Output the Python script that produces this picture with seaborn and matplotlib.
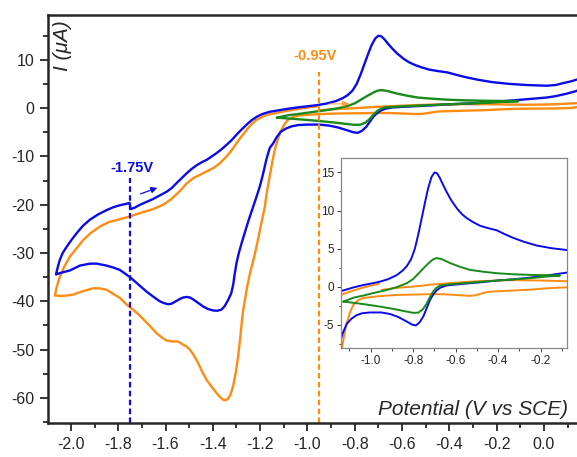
import numpy as np
import seaborn as sns
import matplotlib.pyplot as plt
from matplotlib.ticker import MultipleLocator

# Cyclic voltammograms (potential V vs SCE, current uA)
blue_v = [-2.063, -2.055, -2.047, -2.035, -2.018, -1.998, -1.976, -1.95, -1.92, -1.885,
          -1.849, -1.82, -1.793, -1.765, -1.752, -1.748, -1.73, -1.708, -1.68, -1.652,
          -1.625, -1.595, -1.573, -1.553, -1.53, -1.511, -1.49, -1.468, -1.447, -1.426,
          -1.405, -1.384, -1.363, -1.342, -1.32, -1.30, -1.278, -1.257, -1.236, -1.215,
          -1.19, -1.16, -1.123, -1.08, -1.035, -0.995, -0.956, -0.92, -0.878, -0.85,
          -0.83, -0.81, -0.792, -0.775, -0.76, -0.745, -0.73, -0.714, -0.70, -0.688,
          -0.675, -0.66, -0.642, -0.62, -0.595, -0.57, -0.548, -0.52, -0.486, -0.45,
          -0.407, -0.37, -0.329, -0.28, -0.219, -0.15, -0.075, 0.011, 0.05, 0.082,
          0.11, 0.138, 0.16, 0.17, 0.14, 0.096, 0.05, 0.011, -0.075, -0.16,
          -0.25, -0.33, -0.407, -0.47, -0.533, -0.59, -0.642, -0.67, -0.69, -0.705,
          -0.721, -0.736, -0.752, -0.77, -0.787, -0.805, -0.83, -0.87, -0.909, -0.95,
          -1.003, -1.04, -1.066, -1.09, -1.113, -1.13, -1.145, -1.159, -1.173, -1.187,
          -1.20, -1.215, -1.232, -1.25, -1.265, -1.278, -1.29, -1.30, -1.308, -1.314,
          -1.322, -1.335, -1.35, -1.363, -1.38, -1.398, -1.42, -1.44, -1.46, -1.483,
          -1.497, -1.51, -1.525, -1.539, -1.56, -1.575, -1.589, -1.605, -1.624, -1.65,
          -1.68, -1.715, -1.75, -1.793, -1.821, -1.849, -1.891, -1.92, -1.962, -2.004,
          -2.035, -2.063]
blue_i = [-34.4, -32.8, -31.4, -30.0, -28.7, -27.3, -25.9, -24.4, -23.1, -22.0,
          -21.1, -20.5, -20.1, -19.8, -19.6, -20.9, -20.6, -20.0, -19.4, -18.8,
          -18.1, -17.3, -16.5, -15.5, -14.4, -13.5, -12.6, -11.8, -11.2, -10.7,
          -10.0, -9.3, -8.5, -7.6, -6.6, -5.5, -4.4, -3.4, -2.5, -1.8,
          -1.2, -0.75, -0.45, -0.1, 0.2, 0.42, 0.66, 0.95, 1.5, 2.1,
          2.7, 3.6, 5.0, 7.0, 9.0, 11.0, 12.9, 14.4, 15.0, 14.9,
          14.3, 13.4, 12.4, 11.3, 10.3, 9.5, 9.0, 8.5, 8.0, 7.7,
          7.4, 6.9, 6.4, 5.9, 5.4, 5.05, 4.8, 4.65, 4.8, 5.2,
          5.5, 5.9, 6.3, 5.0, 3.6, 3.0, 2.5, 2.2, 1.85, 1.5,
          1.18, 0.95, 0.79, 0.6, 0.45, 0.3, 0.15, -0.1, -0.5, -1.0,
          -1.75, -2.8, -3.9, -4.7, -5.1, -5.0, -4.6, -4.0, -3.6, -3.4,
          -3.4, -3.5, -3.75, -4.2, -4.9, -6.0, -7.3, -8.2, -10.5, -13.5,
          -16.0, -18.3, -20.8, -23.4, -25.8, -27.9, -30.0, -32.1, -34.5, -36.6,
          -38.3, -39.7, -41.0, -41.7, -41.95, -41.9, -41.6, -41.1, -40.4, -39.6,
          -39.2, -39.1, -39.2, -39.5, -40.1, -40.5, -40.6, -40.4, -40.0, -39.1,
          -38.0, -36.5, -35.0, -33.5, -33.0, -32.6, -32.2, -32.2, -32.6, -33.6,
          -34.0, -34.4]

orange_v = [-0.948, -0.90, -0.85, -0.80, -0.72, -0.642, -0.56, -0.486, -0.40, -0.329,
            -0.2, -0.075, 0.0, 0.05, 0.10, 0.14, 0.16, 0.165, 0.12, 0.05,
            -0.075, -0.16, -0.25, -0.35, -0.438, -0.465, -0.486, -0.51, -0.533, -0.6,
            -0.66, -0.721, -0.8, -0.878, -0.96, -1.035, -1.06, -1.082, -1.098, -1.113,
            -1.125, -1.137, -1.148, -1.159, -1.172, -1.18, -1.194, -1.208, -1.225, -1.243,
            -1.255, -1.264, -1.272, -1.278, -1.285, -1.293, -1.303, -1.314, -1.325, -1.335,
            -1.346, -1.356, -1.37, -1.384, -1.405, -1.426, -1.445, -1.462, -1.48, -1.497,
            -1.51, -1.525, -1.54, -1.553, -1.575, -1.596, -1.615, -1.638, -1.67, -1.708,
            -1.74, -1.764, -1.793, -1.82, -1.849, -1.88, -1.906, -1.935, -1.962, -1.99,
            -2.018, -2.045, -2.068, -2.06, -2.047, -2.028, -2.004, -1.976, -1.948, -1.915,
            -1.877, -1.84, -1.793, -1.75, -1.70, -1.652, -1.61, -1.575, -1.54, -1.511,
            -1.483, -1.455, -1.426, -1.398, -1.37, -1.342, -1.32, -1.30, -1.278, -1.257,
            -1.236, -1.215, -1.19, -1.172, -1.123, -1.08, -1.032, -0.99, -0.96]
orange_i = [-0.43, -0.25, -0.1, 0.0, 0.25, 0.42, 0.6, 0.72, 0.8, 0.85,
            0.8, 0.7, 0.75, 0.82, 0.95, 1.05, 1.1, 0.5, 0.05, -0.05,
            -0.1, -0.2, -0.4, -0.55, -0.66, -0.8, -0.98, -1.15, -1.22, -1.1,
            -1.0, -1.0, -1.05, -1.1, -1.25, -1.5, -1.8, -2.4, -3.4, -4.8,
            -6.4, -8.4, -11.0, -14.0, -17.5, -20.4, -23.6, -27.0, -30.8, -34.2,
            -37.0, -39.7, -42.0, -44.5, -48.0, -51.4, -54.8, -57.5, -59.3, -60.1,
            -60.5, -60.4, -59.8, -59.0, -57.7, -56.3, -54.6, -52.8, -51.2, -50.0,
            -49.4, -49.0, -48.5, -48.3, -48.3, -48.1, -47.5, -46.6, -44.9, -43.0,
            -41.6, -40.7, -39.3, -38.5, -37.6, -37.3, -37.3, -37.7, -38.1, -38.6,
            -38.8, -38.9, -38.8, -37.0, -34.9, -32.8, -30.7, -29.0, -27.3, -25.8,
            -24.5, -23.6, -23.0, -22.4, -21.6, -20.9, -20.0, -18.8, -17.2, -15.6,
            -14.5, -13.8, -13.1, -12.4, -11.4, -10.0, -8.7, -7.25, -5.8, -4.5,
            -3.3, -2.4, -1.8, -1.4, -0.9, -0.5, -0.1, 0.2, 0.4]

green_v = [-1.129, -1.08, -1.035, -0.98, -0.925, -0.875, -0.83, -0.80, -0.776, -0.745,
           -0.721, -0.705, -0.69, -0.665, -0.627, -0.58, -0.533, -0.47, -0.407, -0.33,
           -0.25, -0.18, -0.109, -0.18, -0.25, -0.33, -0.407, -0.49, -0.564, -0.63,
           -0.674, -0.692, -0.705, -0.72, -0.736, -0.755, -0.776, -0.80, -0.83, -0.89,
           -0.956, -1.01, -1.066, -1.129]
green_i = [-1.97, -1.45, -1.18, -0.8, -0.45, -0.05, 0.45, 1.0, 1.7, 2.6,
           3.25, 3.6, 3.75, 3.6, 3.1, 2.6, 2.2, 1.95, 1.76, 1.62,
           1.54, 1.5, 1.45, 1.3, 1.1, 0.95, 0.79, 0.62, 0.45, 0.3,
           0.15, -0.2, -0.6, -1.3, -2.2, -3.0, -3.42, -3.45, -3.29, -2.95,
           -2.63, -2.4, -2.18, -1.97]

blue_switch = -1.75     # marked potential, blue
orange_start = -0.95    # marked potential, orange

sns.set_style("ticks")
plt.rcParams['font.family'] = ['Liberation Sans', 'DejaVu Sans']
plt.rcParams['axes.unicode_minus'] = False

BLUE = '#0b0bea'
ORANGE = '#ff8c12'
GREEN = '#1a8a1a'

fig = plt.figure(figsize=(5.77, 4.57), dpi=100)
ax = fig.add_axes([48/577, 1-423/457, 529/577, 408/457])


def draw(a, v, i, c, lw):
    sns.lineplot(x=v, y=i, sort=False, estimator=None, color=c, lw=lw, ax=a)


draw(ax, orange_v, orange_i, ORANGE, 1.7)
draw(ax, blue_v, blue_i, BLUE, 1.7)
draw(ax, green_v, green_i, GREEN, 1.7)

ax.set_xlim(-2.097, 0.14)
ax.set_ylim(-65.2, 19.3)
ax.xaxis.set_major_locator(MultipleLocator(0.2))
ax.xaxis.set_minor_locator(MultipleLocator(0.1))
ax.yaxis.set_major_locator(MultipleLocator(10))
ax.yaxis.set_minor_locator(MultipleLocator(5))
ax.tick_params(which='major', direction='out', length=6, width=1.3, labelsize=11.5, pad=4)
ax.tick_params(which='minor', direction='out', length=3.5, width=1.3)
for s in ['left', 'bottom', 'top']:
    ax.spines[s].set_linewidth(1.8)
ax.spines['right'].set_visible(False)
ax.set_xlabel('')
ax.set_ylabel('')

ax.text(0.028, 0.926, 'I (μA)', transform=ax.transAxes, rotation=90,
        ha='center', va='center', fontsize=15, style='italic')
ax.text(0.983, 0.032, 'Potential (V vs SCE)', transform=ax.transAxes,
        ha='right', va='center', fontsize=15, style='italic')

# marked potentials
ax.vlines(blue_switch, -65.2, -14.4, colors=BLUE, lw=1.6, linestyles=(0, (2.5, 1.5)))
ax.vlines(orange_start, -65.2, 7.5, colors=ORANGE, lw=1.6, linestyles=(0, (2.5, 1.5)))
ax.text(blue_switch + 0.007, -12.4, '-1.75V', color=BLUE, fontsize=10.5,
        fontweight='bold', ha='center', va='center')
ax.text(orange_start - 0.018, 10.8, '-0.95V', color=ORANGE, fontsize=10.5,
        fontweight='bold', ha='center', va='center')
ax.annotate('', xy=(-1.624, -16.3), xytext=(-1.717, -17.95),
            arrowprops=dict(arrowstyle='-|>', color=BLUE, lw=0.9, mutation_scale=9))
ax.annotate('', xy=(-0.81, 0.9), xytext=(-0.92, 0.9),
            arrowprops=dict(arrowstyle='-|>', color=ORANGE, lw=1.0, alpha=0.6,
                            mutation_scale=10))

# inset zoom
ins = fig.add_axes([341/577, 1-348/457, 226/577, 190/457])
draw(ins, orange_v, orange_i, ORANGE, 1.4)
draw(ins, blue_v, blue_i, BLUE, 1.4)
draw(ins, green_v, green_i, GREEN, 1.4)
ins.set_xlim(-1.14, -0.076)
ins.set_ylim(-8.07, 16.9)
ins.xaxis.set_major_locator(MultipleLocator(0.2))
ins.xaxis.set_minor_locator(MultipleLocator(0.1))
ins.yaxis.set_major_locator(MultipleLocator(5))
ins.yaxis.set_minor_locator(MultipleLocator(2.5))
ins.tick_params(which='major', direction='out', length=3, width=0.7, labelsize=8.5,
                pad=2, color='#444444')
ins.tick_params(which='minor', direction='out', length=1.8, width=0.7, color='#444444')
for s in ins.spines.values():
    s.set_color('#888888')
    s.set_linewidth(0.9)
ins.set_xlabel('')
ins.set_ylabel('')
ins.set_facecolor('white')

fig.savefig('out.png', dpi=100)
